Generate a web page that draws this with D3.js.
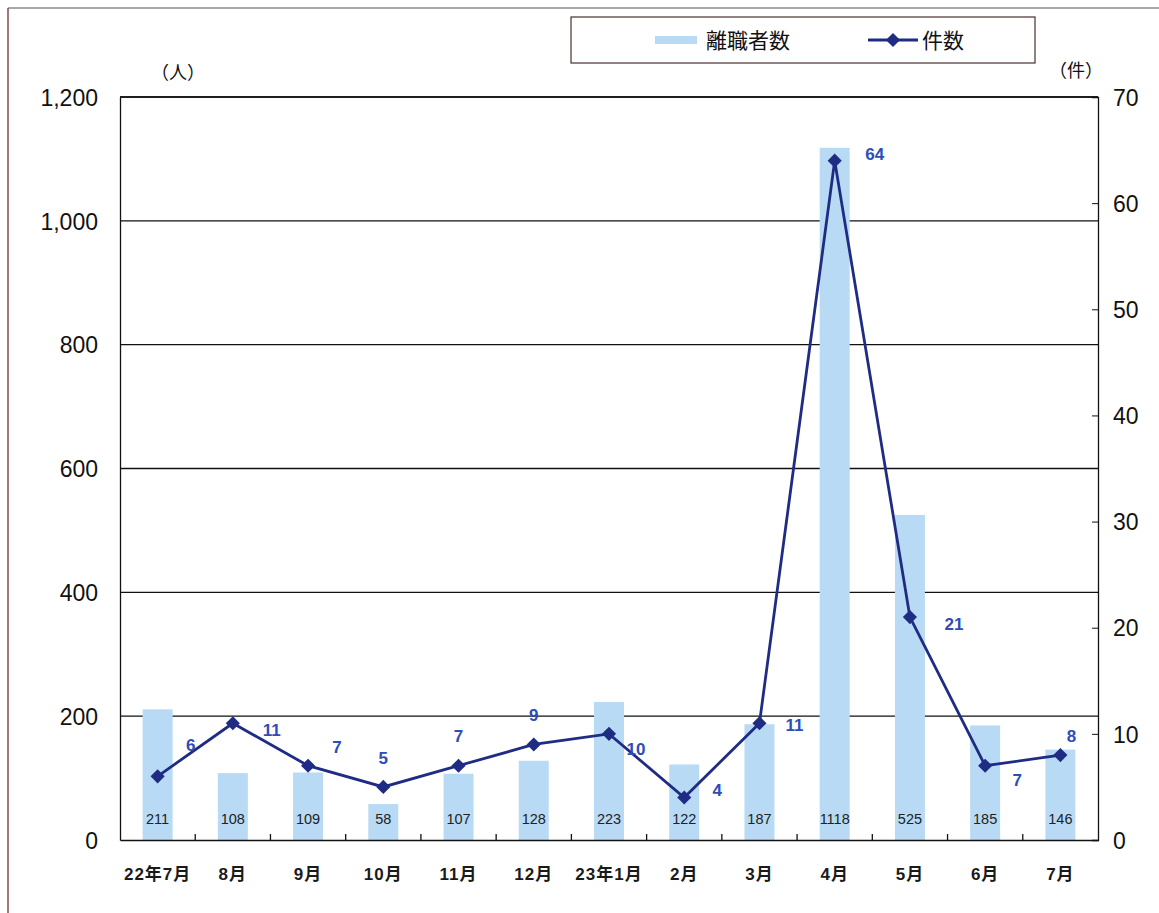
<!DOCTYPE html>
<html>
<head>
<meta charset="utf-8">
<script src="https://cdn.jsdelivr.net/npm/d3@7"></script>
<style>
  body { margin: 0; background: #fff; }
  text { font-family: "Liberation Sans", Arial, "Noto Sans CJK JP", sans-serif; }
  .jp { font-family: "Liberation Sans", "Noto Sans CJK JP", sans-serif; }
</style>
</head>
<body>
<div id="chart"></div>
<script>
var months = ["22年7月", "8月", "9月", "10月", "11月", "12月", "23年1月", "2月", "3月", "4月", "5月", "6月", "7月"];
var leavers = [211, 108, 109, 58, 107, 128, 223, 122, 187, 1118, 525, 185, 146];
var cases = [6, 11, 7, 5, 7, 9, 10, 4, 11, 64, 21, 7, 8];
var leftTicks = [0, 200, 400, 600, 800, 1000, 1200];
var rightTicks = [0, 10, 20, 30, 40, 50, 60, 70];

// where each 件数 label sits relative to its point
var labelShift = [[33, -31], [39, 7], [29, -19], [0, -29], [0, -30], [0, -29], [27, 15],
  [33, -8], [35, 2], [40, -7], [44, 7], [32, 14], [11, -19]];

var svgWidth = 1159;
var svgHeight = 913;
var margin = { top: 97, right: 61, bottom: 73, left: 120 };
var chartWidth = svgWidth - margin.left - margin.right;
var chartHeight = svgHeight - margin.top - margin.bottom;

var svg = d3.select("#chart")
  .append("svg")
  .attr("width", svgWidth)
  .attr("height", svgHeight);

// scanned page frame
svg.append("line").attr("x1", 8).attr("x2", 8).attr("y1", 8).attr("y2", 913)
  .attr("stroke", "#8a4a4a").attr("stroke-width", 1.5);
svg.append("line").attr("x1", 8).attr("x2", 1159).attr("y1", 8).attr("y2", 8)
  .attr("stroke", "#555").attr("stroke-width", 1);

var chartGroup = svg.append("g")
  .attr("transform", `translate(${margin.left}, ${margin.top})`);

var xScale = d3.scaleBand()
  .domain(months)
  .range([0, chartWidth]);

var yLeft = d3.scaleLinear().domain([0, 1200]).range([chartHeight, 0]);
var yRight = d3.scaleLinear().domain([0, 70]).range([chartHeight, 0]);

// gridlines
chartGroup.selectAll(".grid")
  .data(leftTicks.slice(1))
  .enter()
  .append("line")
  .attr("x1", 0)
  .attr("x2", chartWidth)
  .attr("y1", d => yLeft(d))
  .attr("y2", d => yLeft(d))
  .attr("stroke", "#111")
  .attr("stroke-width", 1.4);

// bars
var barW = 30;
chartGroup.selectAll(".bar")
  .data(leavers)
  .enter()
  .append("rect")
  .attr("x", (d, i) => xScale(months[i]) + xScale.bandwidth() / 2 - barW / 2)
  .attr("y", d => yLeft(d))
  .attr("width", barW)
  .attr("height", d => chartHeight - yLeft(d))
  .attr("fill", "#b8daf4");

chartGroup.selectAll(".barLabel")
  .data(leavers)
  .enter()
  .append("text")
  .attr("x", (d, i) => xScale(months[i]) + xScale.bandwidth() / 2)
  .attr("y", chartHeight - 16)
  .attr("text-anchor", "middle")
  .attr("font-size", 14.5)
  .attr("fill", "#222")
  .text(d => d);

// axes
var bottomAxis = d3.axisBottom(xScale).tickSize(0).tickFormat("");
var leftAxis = d3.axisLeft(yLeft).tickValues(leftTicks).tickSize(0)
  .tickFormat(d3.format(","));
var rightAxis = d3.axisRight(yRight).tickValues(rightTicks).tickSize(-6);

chartGroup.append("g")
  .attr("transform", `translate(0, ${chartHeight})`)
  .call(bottomAxis)
  .call(g => g.select(".domain").attr("stroke", "#111").attr("stroke-width", 1.6));

// category boundary ticks
chartGroup.selectAll(".xtick")
  .data(months.slice(1))
  .enter()
  .append("line")
  .attr("x1", d => xScale(d))
  .attr("x2", d => xScale(d))
  .attr("y1", chartHeight)
  .attr("y2", chartHeight - 6)
  .attr("stroke", "#111")
  .attr("stroke-width", 1.3);

chartGroup.selectAll(".xlabel")
  .data(months)
  .enter()
  .append("text")
  .attr("class", "jp")
  .attr("x", d => xScale(d) + xScale.bandwidth() / 2)
  .attr("y", chartHeight + 40)
  .attr("text-anchor", "middle")
  .attr("font-size", 17)
  .attr("font-weight", "bold")
  .attr("letter-spacing", 1)
  .attr("fill", "#1a1a1a")
  .text(d => d);

chartGroup.append("g")
  .call(leftAxis)
  .call(g => g.select(".domain").attr("stroke", "#111").attr("stroke-width", 1.3))
  .call(g => g.selectAll("text").attr("x", -22).attr("dy", "0.36em").attr("font-size", 23).attr("fill", "#111"));

chartGroup.append("g")
  .attr("transform", `translate(${chartWidth}, 0)`)
  .call(rightAxis)
  .call(g => g.select(".domain").attr("stroke", "#111").attr("stroke-width", 1.3))
  .call(g => g.selectAll(".tick line").attr("stroke", "#111"))
  .call(g => g.selectAll("text").attr("x", 15).attr("dy", "0.36em").attr("font-size", 23).attr("fill", "#111"));

// top border
chartGroup.append("line")
  .attr("x1", 0).attr("x2", chartWidth).attr("y1", 0).attr("y2", 0)
  .attr("stroke", "#111").attr("stroke-width", 1.4);

// unit labels
svg.append("text").attr("class", "jp").attr("x", 178).attr("y", 79)
  .attr("text-anchor", "middle").attr("font-size", 18).attr("fill", "#111").text("（人）");
svg.append("text").attr("class", "jp").attr("x", 1076).attr("y", 77)
  .attr("text-anchor", "middle").attr("font-size", 18).attr("fill", "#111").text("（件）");

// line series
var lineGen = d3.line()
  .x((d, i) => xScale(months[i]) + xScale.bandwidth() / 2)
  .y(d => yRight(d));

chartGroup.append("path")
  .datum(cases)
  .attr("d", lineGen)
  .attr("fill", "none")
  .attr("stroke", "#1f2c84")
  .attr("stroke-width", 2.8);

var diamond = d3.symbol().type(d3.symbolSquare).size(100);
chartGroup.selectAll(".marker")
  .data(cases)
  .enter()
  .append("path")
  .attr("d", diamond)
  .attr("transform", (d, i) => `translate(${xScale(months[i]) + xScale.bandwidth() / 2}, ${yRight(d)}) rotate(45)`)
  .attr("fill", "#1f2c84");

chartGroup.selectAll(".caseLabel")
  .data(cases)
  .enter()
  .append("text")
  .attr("x", (d, i) => xScale(months[i]) + xScale.bandwidth() / 2 + labelShift[i][0])
  .attr("y", (d, i) => yRight(d) + labelShift[i][1] + 6)
  .attr("text-anchor", "middle")
  .attr("font-size", 17)
  .attr("font-weight", "bold")
  .attr("fill", "#2d4db8")
  .text(d => d);

// legend
var legend = svg.append("g");
legend.append("rect")
  .attr("x", 571).attr("y", 17).attr("width", 464).attr("height", 46)
  .attr("fill", "#fff").attr("stroke", "#4a3030").attr("stroke-width", 1.2);
legend.append("rect")
  .attr("x", 655).attr("y", 36).attr("width", 42).attr("height", 8)
  .attr("fill", "#b8daf4");
legend.append("text").attr("class", "jp").attr("x", 706).attr("y", 48)
  .attr("font-size", 21).attr("fill", "#111").text("離職者数");
legend.append("line")
  .attr("x1", 868).attr("x2", 918).attr("y1", 40).attr("y2", 40)
  .attr("stroke", "#1f2c84").attr("stroke-width", 2.8);
legend.append("path")
  .attr("d", diamond)
  .attr("transform", "translate(893, 40) rotate(45)")
  .attr("fill", "#1f2c84");
legend.append("text").attr("class", "jp").attr("x", 922).attr("y", 48)
  .attr("font-size", 21).attr("fill", "#111").text("件数");
</script>
</body>
</html>
